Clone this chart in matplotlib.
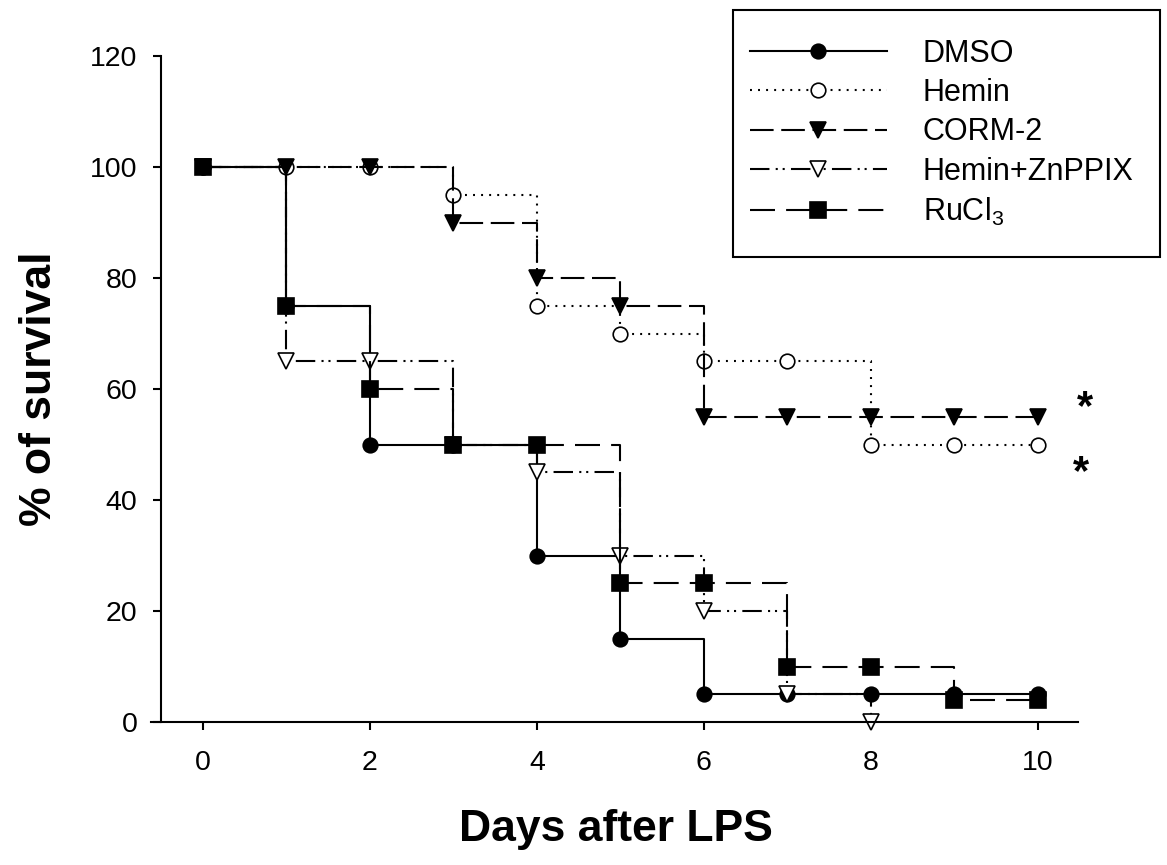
import matplotlib
matplotlib.use("Agg")
import matplotlib.pyplot as plt
from matplotlib.patches import Rectangle

plt.rcParams["font.family"] = ["Liberation Sans", "DejaVu Sans"]
plt.rcParams["mathtext.fontset"] = "custom"
plt.rcParams["mathtext.rm"] = "Liberation Sans"
plt.rcParams["mathtext.default"] = "regular"
plt.rcParams["lines.scale_dashes"] = False

# survival data, % alive per day after LPS
days = [0, 1, 2, 3, 4, 5, 6, 7, 8, 9, 10]
dmso = [100, 75, 50, 50, 30, 15, 5, 5, 5, 5, 5]
hemin = [100, 100, 100, 95, 75, 70, 65, 65, 50, 50, 50]
corm2 = [100, 100, 100, 90, 80, 75, 55, 55, 55, 55, 55]
znppix_days = [0, 1, 2, 3, 4, 5, 6, 7, 8]
hemin_znppix = [100, 65, 65, 50, 45, 30, 20, 5, 0]
rucl3 = [100, 75, 60, 50, 50, 25, 25, 10, 10, 4, 4]

fig = plt.figure(figsize=(11.67, 8.65), dpi=100)
ax = fig.add_axes([151 / 1167, 1 - 722 / 865, 927 / 1167, 666 / 865])

lw = 1.5
common = dict(color="black", lw=lw, drawstyle="steps-post", clip_on=False,
              markeredgecolor="black", markeredgewidth=1.2)

ax.plot(days, dmso, marker="o", ms=10.5, mfc="black", ls="-", label="DMSO", **common)
ax.plot(days, hemin, marker="o", ms=10.5, mfc="white", ls=(0, (1.4, 4.4)),
        label="Hemin", **common)
ax.plot(days, corm2, marker="v", ms=11.5, mfc="black", ls=(0, (17, 5.5)),
        label="CORM-2", **common)
ax.plot(znppix_days, hemin_znppix, marker="v", ms=11.5, mfc="white",
        ls=(0, (14, 4.5, 1.5, 3.5, 1.5, 4.5)), label="Hemin+ZnPPIX", **common)
ax.plot(days, rucl3, marker="s", ms=11, mfc="black", ls=(0, (18, 8)),
        label="RuCl$_3$", **common)

ax.set_xlim(-0.62, 10.48)
ax.set_ylim(0, 120)
ax.set_xticks(range(0, 11, 2))
ax.set_yticks(range(0, 121, 20))
ax.spines["top"].set_visible(False)
ax.spines["right"].set_visible(False)
ax.spines["left"].set_position(("data", -0.5))
for s in ("left", "bottom"):
    ax.spines[s].set_linewidth(1.5)
ax.tick_params(axis="both", direction="out", length=6, width=1.5, labelsize=20.5)
ax.tick_params(axis="x", pad=14)
ax.tick_params(axis="y", pad=11)

ax.set_xlabel("Days after LPS", fontsize=32, fontweight="bold")
ax.set_ylabel("% of survival", fontsize=32, fontweight="bold")
ax.xaxis.set_label_coords(0.502, -0.162)
ax.xaxis.label.set_va("center")
ax.yaxis.set_label_coords(-0.12, 0.5)
ax.yaxis.label.set_va("center")

# significance marks
ax.text(10.56, 54.5, "*", fontsize=30, fontweight="bold", ha="center",
        va="baseline", clip_on=False)
ax.text(10.52, 42.8, "*", fontsize=30, fontweight="bold", ha="center",
        va="baseline", clip_on=False)

leg = fig.legend(loc="upper left", bbox_to_anchor=(750 / 1167, 1 - 39 / 865),
                 frameon=False, fontsize=22, handlelength=4.48, handletextpad=1.18,
                 labelspacing=0.3, numpoints=1, borderpad=0, borderaxespad=0)
fig.patches.append(Rectangle((733 / 1167, 1 - 257 / 865), 427 / 1167, 247 / 865,
                             transform=fig.transFigure, fill=False,
                             edgecolor="black", lw=1.5))

fig.savefig("out.png", dpi=100)
